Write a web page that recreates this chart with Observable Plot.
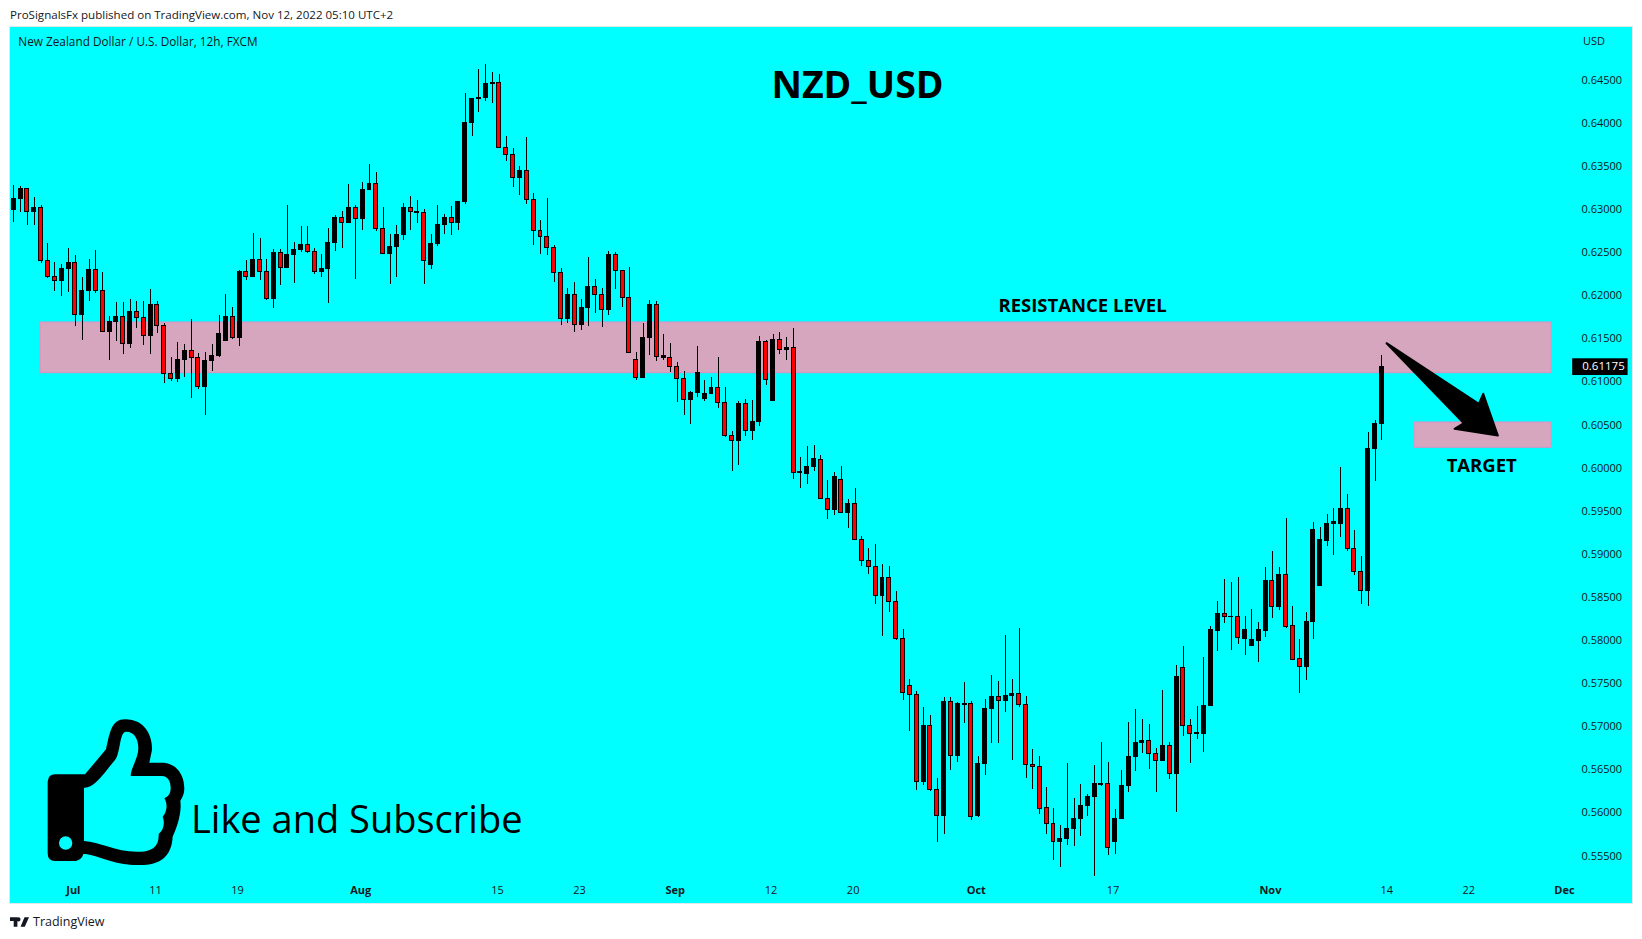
<!DOCTYPE html>
<html>
<head>
<meta charset="utf-8">
<script src="https://cdn.jsdelivr.net/npm/d3@7"></script>
<script src="https://cdn.jsdelivr.net/npm/@observablehq/plot@0.6"></script>
<style>
html,body{margin:0;padding:0;background:#fff;overflow:hidden;width:1642px;height:939px}
#head{position:absolute;left:10px;top:7px;font:11.55px "Open Sans",sans-serif;color:#131722;white-space:nowrap}
#chart{position:absolute;left:10px;top:27px;box-shadow:0 0 0 1px #dfe8ea}
#foot{position:absolute;left:10px;top:912px;height:18px;display:flex;align-items:center;gap:4px;font:12.5px "Open Sans",sans-serif;color:#131722}
</style>
</head>
<body>
<div id="head">ProSignalsFx published on TradingView.com, Nov 12, 2022 05:10 UTC+2</div>
<div id="chart"></div>
<div id="foot"><svg width="19" height="11" viewBox="0 0 36 20"><path d="M14 20H7V9H0V2h14zM28 20h-8l7.5-18H36zM20 6a4 4 0 1 1-8 0 4 4 0 0 1 8 0z" fill="#131722"/></svg><span>TradingView</span></div>
<script>
const opens=[.62993,.63120,.63240,.62970,.63020,.62405,.62219,.62169,.62308,.62382,
.61775,.62053,.62301,.62057,.61577,.61693,.61755,.61438,.61813,.61744,
.61531,.61894,.61651,.61094,.61032,.61253,.61361,.61280,.60939,.61237,
.61295,.61473,.61755,.61508,.62277,.62212,.62417,.62277,.61960,.62498,
.62320,.62467,.62525,.62591,.62509,.62273,.62308,.62610,.62904,.62842,
.63020,.62888,.63225,.63298,.62776,.62482,.62563,.62703,.63020,.62958,
.62962,.62355,.62598,.62819,.62904,.62842,.63086,.64002,.64280,.64292,
.64454,.64470,.63716,.63635,.63364,.63449,.63113,.62753,.62683,.62556,
.62266,.61728,.62011,.61659,.61856,.62103,.62011,.61833,.62475,.62289,
.61976,.61257,.61044,.61508,.61895,.61276,.61280,.61175,.61036,.60789,
.60870,.60800,.60858,.60932,.60758,.60375,.60313,.60746,.60429,.60530,
.61465,.60777,.61489,.61369,.61396,.59941,.59937,.60011,.60096,.59643,
.59512,.59864,.59477,.59585,.59168,.58924,.58854,.58514,.58727,.58448,
.58019,.57474,.57369,.56356,.57010,.56267,.55962,.57288,.56658,.57257,
.57265,.55970,.56565,.57203,.57346,.57296,.57354,.57381,.57254,.56558,
.56534,.56059,.55873,.55661,.55695,.55811,.55927,.56078,.56183,.56322,
.56337,.55661,.55927,.56310,.56646,.56809,.56836,.56685,.56600,.56778,
.56449,.57683,.57010,.56913,.56921,.57235,.58116,.58313,.58267,.58278,
.58023,.57942,.58000,.58116,.58696,.58394,.58765,.58174,.57791,.57698,
.58209,.58638,.59160,.59349,.59357,.59520,.59067,.58789,.58569,.60216,
.60509];
const closes=[.63124,.63240,.62970,.63020,.62405,.62215,.62173,.62312,.62382,.61775,
.62057,.62301,.62057,.61577,.61697,.61755,.61438,.61813,.61740,.61531,
.61894,.61647,.61090,.61032,.61256,.61361,.61276,.60939,.61245,.61303,
.61558,.61755,.61508,.62277,.62215,.62417,.62273,.61960,.62498,.62320,
.62475,.62533,.62591,.62505,.62273,.62312,.62614,.62904,.62842,.63020,
.62888,.63229,.63298,.62772,.62482,.62567,.62707,.63020,.62970,.62973,
.62401,.62602,.62823,.62904,.62842,.63089,.64006,.64284,.64296,.64458,
.64470,.63712,.63631,.63364,.63449,.63113,.62753,.62683,.62556,.62266,
.61728,.62011,.61659,.61860,.62103,.62007,.61833,.62475,.62285,.61972,
.61338,.61044,.61512,.61895,.61287,.61295,.61171,.61032,.60789,.60874,
.61106,.60862,.60932,.60754,.60371,.60313,.60746,.60429,.60537,.61465,
.61021,.61489,.61373,.61396,.59941,.59949,.60018,.60100,.59639,.59512,
.59902,.59477,.59585,.59164,.58920,.58851,.58514,.58727,.58444,.58015,
.57389,.57366,.56356,.57010,.56264,.55962,.57288,.56658,.57265,.57265,
.55950,.56569,.57207,.57346,.57296,.57358,.57381,.57250,.56554,.56530,
.56043,.55869,.55661,.55699,.55815,.55935,.56082,.56190,.56330,.56341,
.55591,.55931,.56314,.56650,.56813,.56836,.56681,.56600,.56778,.56449,
.57578,.57006,.56913,.56929,.57235,.58127,.58313,.58267,.58278,.58027,
.58127,.58011,.58127,.58696,.58394,.58765,.58162,.57779,.57698,.58220,
.59287,.59171,.59357,.59369,.59531,.59067,.58789,.58569,.60224,.60517,
.61175];
const highs=[.63279,.63267,.63240,.63140,.63047,.62606,.62386,.62362,.62548,.62467,
.62208,.62420,.62525,.62270,.61759,.61922,.61922,.61956,.61933,.61933,
.62072,.61933,.61674,.61284,.61458,.61434,.61724,.61330,.61342,.61434,
.61771,.62014,.61864,.62293,.62409,.62722,.62664,.62420,.62533,.62533,
.63047,.62618,.62803,.62803,.62544,.62478,.62780,.62931,.62973,.63290,
.63047,.63314,.63523,.63430,.63020,.62710,.62811,.63066,.63151,.63105,
.63000,.62710,.63047,.62942,.63035,.63089,.64346,.64284,.64625,.64683,
.64590,.64567,.63847,.63704,.63496,.63832,.63182,.62873,.63124,.62579,
.62312,.62080,.62150,.61956,.62444,.62188,.62080,.62509,.62498,.62289,
.62328,.61342,.61678,.61945,.61929,.61550,.61446,.61226,.61121,.60889,
.61411,.61017,.61052,.61284,.60936,.60425,.60773,.60792,.60781,.61527,
.61481,.61550,.61574,.61516,.61620,.60123,.60250,.60262,.60146,.59856,
.59949,.60018,.59636,.59759,.59202,.59067,.59114,.58881,.58858,.58568,
.58127,.57547,.57408,.57223,.57130,.56399,.57339,.57339,.57281,.57513,
.57292,.56654,.57315,.57594,.57524,.58058,.57544,.58135,.57350,.56732,
.56654,.56295,.56051,.55854,.56573,.56163,.56330,.56214,.56550,.56817,
.56585,.56039,.56492,.57049,.57199,.57083,.57025,.56747,.57420,.56817,
.57710,.57930,.57083,.57234,.57803,.58162,.58452,.58707,.58673,.58731,
.58278,.58359,.58209,.58847,.59032,.58847,.59415,.58394,.58011,.58325,
.59369,.59311,.59461,.59531,.60007,.59694,.59276,.58975,.60410,.60552,
.61306];
const lows=[.62854,.62970,.62819,.62819,.62378,.62200,.62049,.61991,.62038,.61643,
.61481,.61933,.62026,.61577,.61249,.61469,.61318,.61388,.61624,.61423,
.61318,.61562,.60986,.61009,.60993,.61055,.60808,.60916,.60611,.61121,
.61284,.61473,.61492,.61411,.62177,.62212,.62177,.61945,.61852,.62119,
.62320,.62142,.62502,.62494,.62246,.62212,.61910,.62513,.62548,.62842,
.62188,.62757,.63225,.62745,.62482,.62130,.62212,.62641,.62757,.62838,
.62130,.62304,.62571,.62710,.62699,.62757,.63058,.63847,.64126,.64253,
.64230,.63712,.63557,.63260,.63163,.63059,.62583,.62478,.62467,.62154,
.61655,.61678,.61574,.61597,.61643,.61794,.61632,.61771,.62072,.61864,
.61338,.61017,.61044,.61307,.61237,.61249,.61110,.60762,.60611,.60506,
.60820,.60773,.60858,.60692,.60359,.59965,.60031,.60367,.60321,.60483,
.60959,.60777,.61318,.61249,.59868,.59763,.59810,.59960,.59639,.59404,
.59450,.59477,.59299,.59164,.58858,.58765,.58417,.58046,.58325,.58000,
.57304,.56944,.56260,.56318,.56248,.55657,.55749,.56492,.56585,.57037,
.55912,.55946,.56434,.56805,.56805,.57165,.56608,.57223,.56399,.56271,
.55981,.55749,.55448,.55367,.55622,.55610,.55726,.55958,.55262,.56310,
.55506,.55518,.55927,.56237,.56480,.56689,.56503,.56237,.56600,.56387,
.56005,.56886,.56573,.56851,.56701,.57235,.57872,.58197,.57884,.57953,
.57826,.57942,.57745,.58035,.58255,.58348,.58139,.57779,.57385,.57536,
.58011,.58638,.59090,.58986,.59195,.59033,.58754,.58418,.58395,.59845,
.60320];

const priceTicks=[.645,.64,.635,.63,.625,.62,.615,.61,.605,.6,.595,.59,.585,.58,.575,.57,.565,.56,.555];
const monthTicks=[9,51,97,141,184,227];
const monthLabels=["Jul","Aug","Sep","Oct","Nov","Dec"];
const dayTicks=[21,33,71,83,111,123,161,201,213];
const dayLabels=["11","19","15","23","12","20","17","14","22"];

const zones=[
  {x1:3.9,x2:224.8,top:.61689,bottom:.61101},
  {x1:204.8,x2:224.8,top:.60529,bottom:.60236}
];
const arrowBars=[200.69,214.18,214.82,216.96,210.63,211.99];
const arrowPrices=[.61449,.60746,.60862,.60378,.60456,.60521];
const lastPrice=.61175;

const candles=opens.map((o,i)=>({i,open:o,close:closes[i],high:highs[i],low:lows[i]}));
const font='"Open Sans",sans-serif';

function thumb(){
  const g=d3.create("svg:g").attr("transform","translate(-10,633) scale(0.3333)");
  g.append("path").attr("fill","#000").attr("fill-rule","evenodd").attr("d",
   "M143 365Q145 343 165 343L255 343L318 268C330 215 335 178 375 178C440 178 458 235 456 270L448 308L485 308C530 308 553 345 553 385C553 405 545 415 541 423C545 450 537 490 518 530C515 590 480 615 420 615C340 618 290 582 250 582C245 603 225 603 220 603L165 603Q143 603 143 580Z"+
   "M252 383C285 385 315 335 345 300C362 280 358 215 378 215C405 215 415 240 415 265C415 295 392 325 392 348L485 348C505 348 512 365 512 385C512 400 505 410 493 415C503 430 502 455 488 470C496 490 490 512 476 522C478 560 455 575 420 575C350 578 300 545 252 543Z"+
   "M177 549a20 20 0 1 0 40 0a20 20 0 1 0 -40 0Z");
  return g.node();
}

const plot=Plot.plot({
  width:1622,height:876,
  marginLeft:0,marginRight:54,marginTop:0,marginBottom:23,
  style:{background:"#00ffff",fontFamily:font,fontSize:"11px",color:"#131722"},
  x:{domain:[-0.482,228.75],axis:null},
  y:{domain:[.55216,.65111],axis:null},
  marks:[
    Plot.rect(zones,{x1:"x1",x2:"x2",y1:"bottom",y2:"top",fill:"#d5a6bd",stroke:"#e08fc4",strokeWidth:1}),
    Plot.ruleX(candles,{x:"i",y1:"low",y2:"high",stroke:"#000",strokeWidth:1,shapeRendering:"crispEdges"}),
    Plot.rect(candles,{x1:d=>d.i-.29,x2:d=>d.i+.29,y1:"open",y2:"close",
      fill:d=>d.close>=d.open?"#000":"#ff0000",stroke:"#000",strokeWidth:1,shapeRendering:"crispEdges"}),
    Plot.line(arrowBars.map((b,i)=>[b,arrowPrices[i]]),{x:d=>d[0],y:d=>d[1],fill:"#000",stroke:"#000",strokeWidth:2,strokeLinejoin:"round",curve:"linear-closed"}),
    Plot.axisY({anchor:"right",ticks:priceTicks,tickSize:0,tickPadding:3,tickFormat:d=>d.toFixed(5),label:null,fontSize:11}),
    Plot.axisX({ticks:monthTicks,tickSize:0,tickPadding:6,dx:-2,tickFormat:d=>monthLabels[monthTicks.indexOf(d)],label:null,fontWeight:"bold"}),
    Plot.axisX({ticks:dayTicks,tickSize:0,tickPadding:6,dx:-2,tickFormat:d=>dayLabels[dayTicks.indexOf(d)],label:null}),
    Plot.rect([{}],{x1:()=>227.9,x2:()=>236,y1:()=>.61074,y2:()=>.61268,fill:"#000"}),
    Plot.text([lastPrice],{x:()=>229.3,y:d=>d,text:d=>d.toFixed(5),fill:"#fff",textAnchor:"start",fontSize:11.5}),
    Plot.text(["NZD_USD"],{x:()=>123.34,y:()=>.64438,text:d=>d,fontSize:37.5,fontWeight:"bold",fill:"#000"}),
    Plot.text(["RESISTANCE LEVEL"],{x:()=>156.24,y:()=>.6188,text:d=>d,fontSize:18.5,fontWeight:"bold",fill:"#000"}),
    Plot.text(["TARGET"],{x:()=>214.6,y:()=>.60019,text:d=>d,fontSize:18.5,fontWeight:"bold",fill:"#000"}),
    Plot.text(["Like and Subscribe"],{x:()=>25.9,y:()=>.55911,text:d=>d,fontSize:38,textAnchor:"start",fill:"#000"}),
    Plot.text(["New Zealand Dollar / U.S. Dollar, 12h, FXCM"],{x:()=>.65,y:()=>.64941,text:d=>d,fontSize:11.8,textAnchor:"start",fill:"#131722"}),
    Plot.text(["USD"],{x:()=>229.4,y:()=>.6495,text:d=>d,fontSize:11,textAnchor:"start",fill:"#131722"}),
    thumb
  ]
});
document.getElementById("chart").append(plot);
</script>
</body>
</html>
